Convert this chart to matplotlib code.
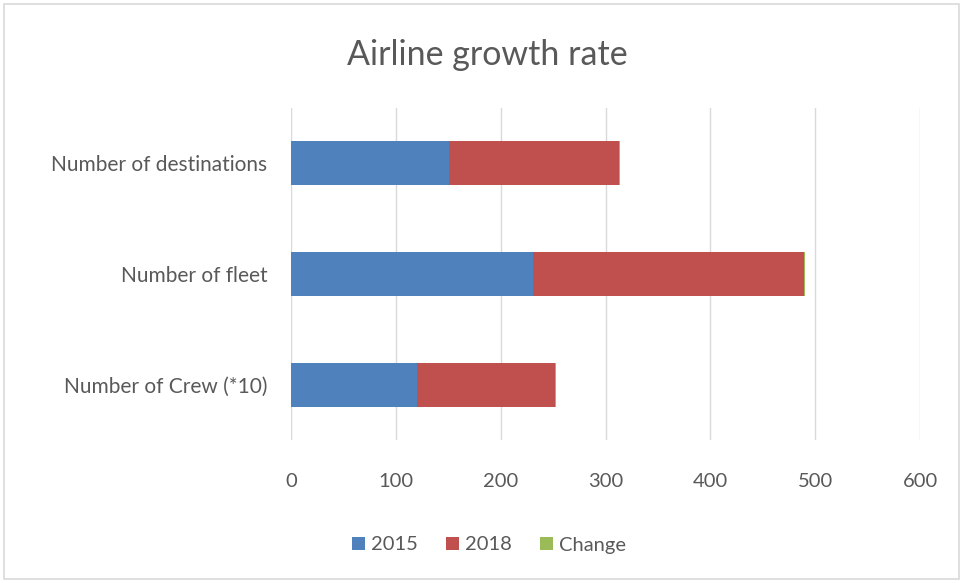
import matplotlib
matplotlib.use("Agg")
import matplotlib.pyplot as plt
from matplotlib.patches import Rectangle

categories = ["Number of Crew (*10)", "Number of fleet", "Number of destinations"]
v2015 = [120, 231, 151]
v2018 = [132, 258, 162]
change = [1.10, 1.12, 1.07]
xticks = [0, 100, 200, 300, 400, 500, 600]

plt.rcParams['font.family'] = ['Lato', 'DejaVu Sans']
fig = plt.figure(figsize=(9.63, 5.83), dpi=100)
ax = fig.add_axes([291/963, 1-440/583, (920-291)/963, (440-108)/583])

y = list(range(len(categories)))
h = 0.4
ax.barh(y, v2015, height=h, color="#4f81bd", label="2015", zorder=3)
left2 = v2015
ax.barh(y, v2018, height=h, left=left2, color="#c0504d", label="2018", zorder=3)
left3 = [a + b for a, b in zip(v2015, v2018)]
ax.barh(y, change, height=h, left=left3, color="#9bbb59", label="Change", zorder=3)

ax.set_xlim(0, 600)
ax.set_ylim(-0.5, 2.5)
ax.set_xticks(xticks)
ax.set_xticklabels([str(t) for t in xticks])
ax.set_yticks(y)
ax.set_yticklabels(categories)
ax.tick_params(axis='x', length=0, labelsize=14.5, labelcolor="#595959", pad=24)
ax.tick_params(axis='y', length=0, labelsize=15, labelcolor="#595959", pad=17)
ax.grid(axis='x', color="#d9d9d9", linewidth=1, zorder=0)
for s in ax.spines.values():
    s.set_visible(False)

fig.text(0.506, 1-55/583, "Airline growth rate", ha='center', va='center',
         fontsize=24.5, color="#595959")

leg = fig.legend(loc='center', bbox_to_anchor=(0.508, 1-545/583), ncol=3,
                 frameon=False, fontsize=14.5, handlelength=0.65, handleheight=0.65,
                 handletextpad=0.3, columnspacing=1.4)
for t in leg.get_texts():
    t.set_color("#595959")

fig.patches.append(Rectangle((4/963, 4/583), 955/963, 575/583, transform=fig.transFigure,
                             fill=False, edgecolor="#d9d9d9", linewidth=1.2))

fig.savefig("out.png", dpi=100)
